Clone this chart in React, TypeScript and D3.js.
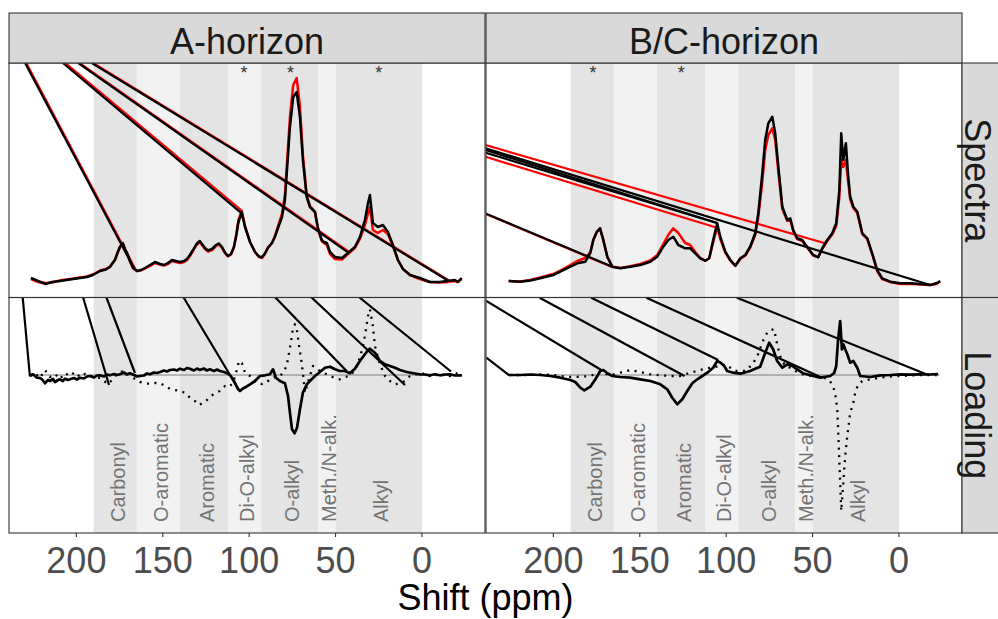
import React from "react";
import * as d3 from "d3";

// ---------- data ----------
const horizons = ["A-horizon", "B/C-horizon"];
const rowLabels = ["Spectra", "Loading"];
const xTicks = [200, 150, 100, 50, 0];

const regions = [
  { label: "Carbonyl", from: 190, to: 165, dark: true },
  { label: "O-aromatic", from: 165, to: 140, dark: false },
  { label: "Aromatic", from: 140, to: 112, dark: true },
  { label: "Di-O-alkyl", from: 112, to: 93, dark: false },
  { label: "O-alkyl", from: 93, to: 60, dark: true },
  { label: "Meth./N-alk.", from: 60, to: 50, dark: false },
  { label: "Alkyl", from: 50, to: 0, dark: true },
];

const starsA = [103, 76, 25];
const starsBC = [177, 126];

type P = [number, number];

// A-horizon spectra [ppm, intensity]
const specABlack: P[] = [
  [226.3, 7], [222.2, 4], [217.8, 1], [214.1, 3], [209.5, 4], [203.7, 5.5], [197.9, 7], [193.9, 8],
  [190.4, 10], [186.3, 14], [182.9, 15.5], [180.6, 18], [177.7, 25], [176.0, 33], [174.8, 38],
  [173.2, 42], [171.9, 36], [170.7, 32], [169.0, 24], [167.2, 17], [164.9, 14], [162.6, 15],
  [160.3, 17], [157.4, 20], [154.5, 23], [151.6, 21], [149.3, 20], [147.0, 22], [144.7, 25],
  [142.4, 24], [140.0, 23], [137.7, 24], [136.0, 26], [134.3, 30], [132.5, 35], [130.5, 41],
  [128.6, 44], [127.3, 41], [125.6, 37], [123.8, 34.5], [121.5, 36], [119.2, 40], [117.5, 41.5],
  [115.7, 38], [114.0, 32.5], [112.3, 29], [110.5, 31], [108.8, 38], [107.4, 50], [106.2, 63],
  [104.3, 72.5], [102.4, 58], [99.5, 43], [96.6, 33], [94.3, 28.5], [92.6, 27.7], [90.9, 31.5],
  [89.1, 37.5], [86.8, 42], [85.1, 48], [83.3, 57], [81.0, 68], [79.3, 85], [78.1, 115],
  [76.4, 158], [74.5, 188], [72.5, 193], [70.6, 168], [68.9, 125], [66.7, 88], [64.8, 78],
  [61.9, 73], [60.2, 57], [58.0, 45], [56.7, 43], [55.0, 42], [53.2, 33], [50.3, 28], [46.3, 27],
  [42.8, 32], [38.8, 38], [35.9, 48], [33.0, 65], [31.2, 82], [30.1, 90], [28.4, 62], [25.5, 58],
  [22.6, 60], [19.7, 53], [16.8, 40], [13.9, 25], [11.0, 16], [6.9, 10], [1.2, 7], [-4.6, 3],
  [-10.4, 3], [-14.5, 4], [-19.1, 5], [-20.8, 3], [-23.0, 7],
];
const specARed: P[] = [
  [226.3, 6], [222.2, 3], [217.8, 2], [214.1, 2.5], [209.5, 4.5], [203.7, 6], [197.9, 7.5], [193.9, 8.5],
  [190.4, 10.5], [186.3, 14.5], [182.9, 16], [180.6, 18.5], [177.7, 25], [176.0, 33], [174.8, 38],
  [173.2, 42], [171.9, 36], [170.7, 32], [169.0, 24], [167.2, 17], [164.9, 14], [162.6, 14.5],
  [160.3, 16.5], [157.4, 19], [154.5, 22], [151.6, 20.5], [149.3, 19.5], [147.0, 21], [144.7, 24],
  [142.4, 23], [140.0, 22], [137.7, 23], [136.0, 25], [134.3, 29], [132.5, 34], [130.5, 40],
  [128.6, 43], [127.3, 40], [125.6, 36], [123.8, 33.5], [121.5, 35], [119.2, 39], [117.5, 40.5],
  [115.7, 37], [114.0, 32], [112.3, 28.5], [110.5, 30.5], [108.8, 38], [107.4, 51], [106.2, 65],
  [104.3, 74], [102.4, 59], [99.5, 43], [96.6, 33], [94.3, 28], [92.6, 27], [90.9, 31],
  [89.1, 37], [86.8, 42], [85.1, 49], [83.3, 59], [81.0, 71], [79.3, 90], [78.1, 122],
  [76.4, 168], [74.5, 200], [72.5, 207], [70.6, 178], [68.9, 130], [66.7, 90], [64.8, 79],
  [61.9, 73], [60.2, 56], [58.0, 44], [56.7, 42], [55.0, 40], [53.2, 31], [50.3, 26], [46.3, 25.5],
  [42.8, 31], [38.8, 37], [35.9, 46], [33.0, 60], [31.2, 72], [30.1, 78], [28.4, 55], [25.5, 52],
  [22.6, 55], [19.7, 51], [16.8, 39], [13.9, 25], [11.0, 16], [6.9, 10], [1.2, 6], [-4.6, 3],
  [-10.4, 2.5], [-14.5, 3], [-19.1, 4], [-20.8, 3], [-23.0, 6],
];

// B/C-horizon spectra
const specBCBlack: P[] = [
  [225.9, 4], [219.2, 3.3], [213.4, 4.5], [207.6, 6.7], [200.1, 10], [196.0, 13.3], [190.2, 18.3],
  [186.2, 21.7], [181.5, 23.3], [178.6, 32], [176.9, 45], [174.9, 53], [173.0, 56.7], [171.1, 45],
  [168.8, 28.3], [165.9, 18.3], [161.3, 16.7], [155.5, 18.3], [149.7, 20], [143.9, 23.3],
  [139.9, 28.3], [136.4, 38.3], [133.5, 45], [130.6, 48.3], [127.7, 40], [123.7, 36.7],
  [120.8, 36.7], [117.9, 31.7], [115.0, 26.7], [112.1, 24.3], [109.8, 26.7], [107.5, 45],
  [105.2, 61.7], [103.4, 48.3], [100.5, 33.3], [97.6, 25], [94.7, 19.3], [91.8, 26.7], [88.9, 30],
  [86.1, 38.3], [83.2, 51.7], [81.4, 71.7], [79.1, 111.7], [77.4, 145], [75.6, 161.7],
  [73.3, 168.3], [71.6, 151.7], [69.8, 118.3], [67.5, 78.3], [64.6, 65], [62.9, 66.7], [61.2, 55],
  [58.9, 46.7], [56.0, 45], [53.1, 38.3], [49.6, 30], [46.7, 27.7], [44.4, 36.7], [41.5, 45],
  [38.6, 51.7], [36.3, 61.7], [34.5, 95], [33.4, 151.7], [32.2, 125], [30.7, 141.7], [29.5, 111.7],
  [28.2, 88.3], [26.4, 78.3], [24.1, 73.3], [21.2, 51.7], [18.3, 46.7], [15.5, 31.7], [12.6, 15],
  [9.7, 6.7], [5.0, 3.3], [-0.8, 1.7], [-6.5, 1.7], [-12.3, 1], [-18.1, 0], [-21.6, 1.7], [-23.9, 4],
];
const specBCRed: P[] = [
  [225.9, 4], [219.2, 3.5], [213.4, 5], [207.6, 7.5], [200.1, 11], [196.0, 14.5], [190.2, 20],
  [186.2, 24], [181.5, 27], [178.6, 33], [176.9, 45], [174.9, 53], [173.0, 56.7], [171.1, 45],
  [168.8, 28.3], [165.9, 18.3], [161.3, 17], [155.5, 18.8], [149.7, 21], [143.9, 24.5],
  [139.9, 30], [136.4, 41], [133.5, 50], [130.6, 56.7], [127.7, 52], [123.7, 42],
  [120.8, 40], [117.9, 33], [115.0, 27], [112.1, 24.3], [109.8, 26.7], [107.5, 43],
  [105.2, 58], [103.4, 46], [100.5, 32.5], [97.6, 24.5], [94.7, 19], [91.8, 26], [88.9, 29.5],
  [86.1, 37.5], [83.2, 50], [81.4, 68], [79.1, 103], [77.4, 135], [75.6, 150],
  [73.3, 156.7], [71.6, 145], [69.8, 113], [67.5, 76], [64.6, 64], [62.9, 65], [61.2, 54],
  [58.9, 46], [56.0, 44], [53.1, 37.5], [49.6, 29.5], [46.7, 28], [44.4, 36], [41.5, 44],
  [38.6, 50.5], [36.3, 59], [34.5, 88], [33.4, 125], [32.2, 118], [30.7, 125], [29.5, 105],
  [28.2, 86], [26.4, 77], [24.1, 72], [21.2, 51], [18.3, 46], [15.5, 31], [12.6, 14],
  [9.7, 6], [5.0, 3], [-0.8, 1], [-6.5, 1.2], [-12.3, 0.5], [-18.1, 0], [-21.6, 1], [-23.9, 3.5],
];

// A-horizon loadings [ppm, loading]
const loadASolid: P[] = [
  [226.9, -1], [225.1, 0.7], [224.0, -1], [222.8, -2.7], [221.1, -3], [219.9, -4.3], [218.2, -8.3],
  [216.4, -5], [215.3, -6], [213.5, -4], [212.4, -7], [210.6, -5], [209.5, -4.3], [207.8, -6],
  [206.6, -3.7], [204.9, -5], [203.7, -4.3], [201.4, -3], [199.7, -4.5], [197.9, -2.7],
  [195.6, -3.5], [193.9, -1.5], [192.1, -1], [189.8, -2.5], [188.1, -0.5], [186.3, -0.3],
  [184.0, -1.5], [182.3, 0.5], [180.6, -0.3], [178.2, 1], [176.5, 0], [174.8, 0.7], [172.5, 2.5],
  [170.7, 0.5], [169.0, 1.7], [166.7, 0], [164.9, -1.5], [163.2, -1], [160.9, -0.5], [159.1, 1.5],
  [157.4, 0.7], [155.1, 2.5], [153.4, 2], [151.6, 3], [149.3, 4.5], [147.6, 3.5], [145.8, 5],
  [143.5, 5.5], [141.8, 4.5], [140.0, 6.3], [137.7, 5], [136.0, 7], [134.3, 6.3], [131.9, 4.5],
  [130.2, 6.5], [128.5, 5], [126.2, 6.5], [124.4, 4.5], [122.7, 5.7], [120.4, 4], [118.6, 5.5],
  [116.9, 4], [114.6, 3], [112.8, 1.7], [111.1, 0], [110.0, -2.7], [108.2, -8], [106.5, -14],
  [105.3, -16], [103.6, -13.5], [101.9, -12], [99.5, -9.3], [96.6, -6], [93.8, -1], [90.9, -0.3],
  [88.0, 0.7], [86.2, 5.7], [84.5, -2.7], [82.2, -6], [79.3, -8.3], [77.5, -21], [76.4, -37.7],
  [75.2, -54.3], [73.7, -58.3], [72.3, -52.7], [70.6, -34.3], [68.9, -17.7], [66.6, -9.3],
  [64.8, -6], [61.9, -1], [59.0, 3], [56.1, 7.3], [53.2, 8.3], [50.3, 5.7], [47.5, 4], [44.6, 4],
  [41.7, 1.7], [38.8, 6.3], [35.9, 14], [33.0, 20.7], [31.2, 25], [30.1, 26.3], [27.2, 22.3],
  [24.3, 14], [21.4, 10.7], [18.5, 9], [15.6, 7.3], [12.7, 5], [9.8, 3.5], [6.9, 2.3], [4.1, 1.5],
  [1.2, 0.7], [-1.7, 0.5], [-4.6, -0.3], [-7.5, 0.8], [-10.4, -0.3], [-13.3, 0.5], [-16.2, 0.7],
  [-19.1, -0.5], [-23.1, -0.3],
];
const loadADotted: P[] = [
  [226.9, 0], [224.0, 2], [221.1, -3], [218.2, 5], [215.3, -2], [212.4, 1], [209.5, -4], [206.6, 2],
  [203.7, -1], [200.8, 3], [197.9, -2], [195.0, 1], [192.1, -1], [189.2, -2], [186.3, -3],
  [184.0, -6], [181.7, -9], [179.4, -5], [177.1, 0], [174.8, 3], [171.9, 4], [169.0, 0],
  [166.1, -4], [163.2, -7], [160.3, -8], [157.4, -9], [154.5, -8], [151.6, -8], [148.7, -11],
  [145.8, -14], [142.9, -15], [140.0, -16], [137.2, -17.7], [134.3, -22.7], [131.4, -26],
  [129.1, -30], [126.7, -28], [124.4, -25], [122.1, -21], [119.8, -18.3], [116.9, -16],
  [114.0, -11], [111.7, -12], [109.4, -8], [107.6, 2], [105.9, 14], [104.2, 12], [102.4, 2.3],
  [99.5, -1], [97.2, -6], [94.9, -8.3], [92.6, -9], [90.3, -8], [88.0, -4.3], [85.1, -2],
  [82.2, -1], [79.9, 3], [78.1, 10.7], [76.4, 27.3], [74.7, 45.7], [73.5, 50.7], [72.3, 44],
  [71.2, 30], [70.0, 17], [68.9, 2.3], [67.7, -17.7], [66.0, -7.7], [63.1, 9], [59.0, 4],
  [56.1, 1.5], [53.2, -1], [50.3, -3], [47.5, -4.3], [44.6, -2], [41.7, -1], [38.8, 5],
  [35.9, 17.3], [34.1, 29], [33.0, 39], [31.2, 59], [30.1, 65.7], [28.4, 49], [27.2, 29],
  [25.5, 18], [24.3, 10.7], [21.4, -1], [18.5, -6], [15.6, -9.3], [12.7, -8.3], [9.8, -6],
  [6.9, -1], [4.1, 1], [1.2, 0], [-1.7, 2], [-4.6, -1], [-7.5, 1], [-10.4, -2], [-13.3, 1],
  [-16.2, -1], [-19.1, 2], [-23.1, 0],
];

// B/C-horizon loadings
const loadBCSolid: P[] = [
  [225.5, 0], [219.2, 0], [213.4, 0.5], [207.6, 0], [201.8, -1], [196.0, -2.7], [190.2, -5],
  [187.3, -7], [184.4, -12.7], [182.1, -15.3], [178.6, -11.7], [175.7, -4.3], [172.9, 4],
  [171.1, 5], [168.8, 1.7], [165.9, -1], [161.3, -2], [155.5, -2.7], [149.7, -4.3], [143.9, -6],
  [138.1, -9.3], [134.1, -14.3], [131.2, -22.7], [128.3, -29.3], [125.4, -24.3], [122.5, -16],
  [119.6, -8.3], [116.7, -4.3], [113.8, -1], [110.9, 2.3], [107.5, 7.3], [105.2, 14],
  [103.4, 12.5], [101.1, 9], [99.4, 4], [95.9, 2.3], [91.8, 1.3], [86.1, 4], [83.2, 6.3],
  [80.3, 8.3], [77.4, 22.3], [75.1, 32.3], [72.8, 25.7], [70.5, 14], [67.5, 7.3], [64.6, 10.7],
  [61.7, 9], [58.9, 5.7], [55.4, 1.7], [51.3, -0.3], [45.5, -2.7], [39.8, -1], [37.5, 2],
  [36.3, 9], [35.2, 35.7], [34.0, 54], [33.0, 25.7], [32.2, 30.7], [31.1, 25.7], [29.9, 20.7],
  [28.2, 12.3], [26.4, 14], [24.1, 7.3], [22.4, -1], [16.6, -2], [10.8, -0.3], [5.0, 0],
  [-0.8, 0.7], [-6.5, 0.3], [-12.3, 0.7], [-18.1, 0.5], [-22.7, 1],
];
const loadBCDotted: P[] = [
  [225.5, 0], [219.2, 0], [213.4, 0], [207.6, 0.5], [201.8, 0.3], [196.0, -1], [190.2, -2],
  [184.4, -1.7], [178.6, -1], [172.9, 3], [167.1, -0.3], [161.3, 2.3], [155.5, 5], [149.7, 3],
  [143.9, 0.7], [138.1, -0.3], [132.3, -1], [126.6, -1], [120.8, 2.3], [115.0, 5], [109.2, 7.3],
  [103.4, 9], [100.5, 10.7], [97.6, 7.3], [94.7, 4], [88.9, 4], [84.8, 10.7], [81.9, 19],
  [79.1, 32.3], [77.4, 39], [75.6, 44], [73.9, 45], [72.2, 45.7], [70.5, 30.7], [68.8, 19],
  [65.9, 9], [63.0, 7.3], [58.9, 3], [54.2, -0.3], [48.4, -1], [44.4, -2], [40.9, -4.3],
  [38.6, -9.3], [36.9, -17.7], [35.7, -34.3], [35.2, -54.3], [34.6, -81], [34.0, -107.7],
  [33.4, -136], [32.2, -107.7], [31.1, -81], [29.9, -61], [28.2, -37.7], [26.4, -27.7],
  [25.3, -17.7], [23.6, -9.3], [21.2, -6], [16.6, -4.3], [10.8, -2.7], [5.0, -1.5],
  [-0.8, -1], [-6.5, -0.5], [-12.3, 0], [-22.7, 0],
];

// wrap-around path segments: [fromPpm, fromValue, toPpm, toValue]
type Seg = [number, number, number, number];
const segSpecARed: Seg[] = [
  [229.0, 222, 165.6, 15], [206.4, 222, 104.0, 74], [198.2, 222, 42.2, 33], [190.3, 222, -15.6, 4.5],
];
const segSpecABlack: Seg[] = [
  [229.7, 222, 166.1, 15], [207.8, 222, 104.3, 71.7], [198.9, 222, 42.6, 32.3], [191.1, 222, -15.2, 4.3],
];
const segSpecBCRed: Seg[] = [
  [239.4, 140, 42.7, 41.7], [239.4, 128.3, 106.3, 57.7], [239.4, 71.2, 166.1, 18],
];
const segSpecBCBlack: Seg[] = [
  [239.4, 136.7, -18.1, 0], [239.4, 135, 104.8, 61.7], [239.4, 132.3, 104.8, 61.7], [239.4, 71.7, 165.9, 18.3],
];
const segLoadA: Seg[] = [
  [231.1, 78, 226.9, -1.5], [196.2, 78, 181.1, -10], [182.7, 78, 166.1, 2], [138.1, 78, 105.9, -15],
  [85.1, 78, 43.6, 4], [64.2, 78, 9.8, -10], [36.5, 78, -16.8, 3.5],
];
const segLoadBC: Seg[] = [
  [238.8, 74, 172.3, 5], [238.8, 17.3, 225.5, -0.3], [208.0, 77.3, 124.1, -1], [178.1, 77.3, 104.6, 15],
  [146.2, 77.3, 45.5, -2], [93.8, 77.3, -15.8, 0.7],
];

const zeroRange: [number, number] = [226.5, -23.5];

// ---------- layout ----------
const W = 998, H = 619;
const colRanges: [number, number][] = [[9, 485], [486, 962]];
const rowRanges: [number, number][] = [[63, 297.5], [297.5, 533]];
const stripTop = 13;
const FONT = "'Liberation Sans', Arial, Helvetica, sans-serif";

export default function App() {
  const xs = colRanges.map((r) => d3.scaleLinear().domain([239, -36.5]).range(r));
  const ySpec = d3.scaleLinear().domain([0, 222]).range([285, 63]);
  const yLoad = d3.scaleLinear().domain([-158, 78]).range([533, 297]);

  const linePath = (x: d3.ScaleLinear<number, number>, y: d3.ScaleLinear<number, number>, pts: P[]) =>
    d3.line<P>().x((d) => x(d[0])).y((d) => y(d[1]))(pts) || "";

  const segs = (x: any, y: any, list: Seg[], color: string, w: number, key: string) =>
    list.map((s, i) => (
      <line key={key + i} x1={x(s[0])} y1={y(s[1])} x2={x(s[2])} y2={y(s[3])} stroke={color} strokeWidth={w} />
    ));

  const panelData = [
    {
      spec: [specARed, specABlack], specSeg: [segSpecARed, segSpecABlack],
      load: [loadASolid, loadADotted], loadSeg: segLoadA, stars: starsA,
    },
    {
      spec: [specBCRed, specBCBlack], specSeg: [segSpecBCRed, segSpecBCBlack],
      load: [loadBCSolid, loadBCDotted], loadSeg: segLoadBC, stars: starsBC,
    },
  ];

  return (
    <svg width={W} height={H} style={{ position: "absolute", left: 0, top: 0, background: "#fff" }} fontFamily={FONT}>
      <defs>
        {colRanges.map((c, ci) =>
          rowRanges.map((r, ri) => (
            <clipPath id={`clip-${ci}-${ri}`} key={`c${ci}${ri}`}>
              <rect x={c[0]} y={r[0]} width={c[1] - c[0]} height={r[1] - r[0]} />
            </clipPath>
          ))
        )}
      </defs>
      <rect x={0} y={0} width={W} height={H} fill="#fff" />

      {colRanges.map((c, ci) => {
        const x = xs[ci];
        const pd = panelData[ci];
        return (
          <g key={"col" + ci}>
            {rowRanges.map((r, ri) => {
              const y = ri === 0 ? ySpec : yLoad;
              return (
                <g key={"p" + ri}>
                  <g clipPath={`url(#clip-${ci}-${ri})`}>
                    {regions.map((b) => (
                      <rect key={b.label} x={x(b.from)} y={r[0]} width={x(b.to) - x(b.from)} height={r[1] - r[0]}
                        fill={b.dark ? "#e4e4e4" : "#f2f2f2"} />
                    ))}
                    {ri === 0 ? (
                      <g fill="none" strokeLinejoin="round">
                        {segs(x, y, pd.specSeg[0], "#ff0000", 2.2, "rs")}
                        <path d={linePath(x, y, pd.spec[0])} stroke="#ff0000" strokeWidth={2.5} />
                        {segs(x, y, pd.specSeg[1], "#000", 2.2, "ks")}
                        <path d={linePath(x, y, pd.spec[1])} stroke="#000" strokeWidth={2.5} />
                      </g>
                    ) : (
                      <g fill="none" strokeLinejoin="round">
                        <line x1={x(zeroRange[0])} x2={x(zeroRange[1])} y1={y(0)} y2={y(0)} stroke="#7f7f7f" strokeWidth={1} />
                        <path d={linePath(x, y, pd.load[1])} stroke="#000" strokeWidth={2.3} strokeDasharray="2 5.5" />
                        {segs(x, y, pd.loadSeg, "#000", 2.2, "ls")}
                        <path d={linePath(x, y, pd.load[0])} stroke="#000" strokeWidth={2.7} />
                      </g>
                    )}
                  </g>
                  {ri === 0 &&
                    pd.stars.map((s) => (
                      <text key={"st" + s} x={x(s)} y={79} fontSize={18} textAnchor="middle" fill="#333">*</text>
                    ))}
                  {ri === 1 &&
                    regions.map((b) => {
                      const cx = x((b.from + b.to) / 2) + 9.5;
                      return (
                        <text key={"lb" + b.label} transform={`translate(${cx},522) rotate(-90)`} fontSize={20}
                          fill="#737373" textAnchor="start">{b.label}</text>
                      );
                    })}
                  <rect x={c[0]} y={r[0]} width={c[1] - c[0]} height={r[1] - r[0]} fill="none" stroke="#333" strokeWidth={1.1} />
                </g>
              );
            })}
            {/* top strip */}
            <rect x={c[0]} y={stripTop} width={c[1] - c[0]} height={rowRanges[0][0] - stripTop} fill="#d9d9d9" stroke="#333" strokeWidth={1.1} />
            <text x={(c[0] + c[1]) / 2} y={54} fontSize={36} textAnchor="middle" fill="#1a1a1a">{horizons[ci]}</text>
            {/* x axis */}
            {xTicks.map((t) => (
              <g key={"t" + t}>
                <line x1={x(t)} x2={x(t)} y1={533} y2={537} stroke="#333" strokeWidth={1.1} />
                <text x={x(t)} y={573} fontSize={36} textAnchor="middle" fill="#4d4d4d">{t}</text>
              </g>
            ))}
          </g>
        );
      })}

      {/* right strips */}
      {rowRanges.map((r, ri) => (
        <g key={"rs" + ri}>
          <rect x={962} y={r[0]} width={49} height={r[1] - r[0]} fill="#d9d9d9" stroke="#333" strokeWidth={1.1} />
          <text transform={`translate(965,${(r[0] + r[1]) / 2}) rotate(90)`} fontSize={36} textAnchor="middle" fill="#1a1a1a">
            {rowLabels[ri]}
          </text>
        </g>
      ))}

      <text x={485.5} y={610} fontSize={36} textAnchor="middle" fill="#000">Shift (ppm)</text>
    </svg>
  );
}
